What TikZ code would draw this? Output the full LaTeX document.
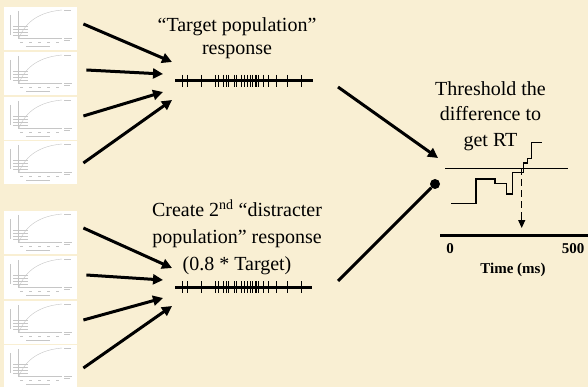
\documentclass[tikz,border=0pt]{standalone}
\usepackage{fontspec}
\setmainfont{Liberation Serif}
\usetikzlibrary{arrows.meta}
\definecolor{parchment}{RGB}{249,239,211}

\begin{document}
\begin{tikzpicture}[x=1pt,y=-1pt]
    \tikzstyle{thumb}=[draw=none,fill=white,minimum width=73pt,minimum height=43pt,anchor=north west,inner sep=0pt]
    \tikzstyle{faint}=[draw=gray!45,line width=0.4pt]
    \tikzstyle{feed}=[line width=3pt,-{Triangle[length=10pt,width=10pt]}]
    \tikzstyle{train}=[line width=3pt]
    \tikzstyle{spike}=[line width=0.9pt]
    \tikzstyle{words}=[align=center,anchor=base,inner sep=0pt]
    \tikzstyle{axisword}=[font=\bfseries\fontsize{15}{18}\selectfont,inner sep=0pt]
    \fill[parchment] (0,0) rectangle (588,387);
    \useasboundingbox (0,0) rectangle (588,387);
    % little cumulative plots on the left
    \foreach \i/\y in {1/7,2/52,3/97,4/141,5/211,6/256,7/301,8/345}{
      \node[thumb] (t\i) at (4,\y) {};
      \begin{scope}[shift={(4,\y)}]
        \draw[faint] (14,4) -- (14,31) -- (58,31);
        \draw[faint] (9,19) -- (24,19) (9,22) -- (24,22) (9,25) -- (24,25) (9,28) -- (24,28);
        \draw[faint] (15,31) .. controls (22,14) and (36,5) .. (58,3);
        \draw[faint] (6,8) -- (6,28);
        \draw[faint] (60,3) -- (67,3);
        \draw[faint] (60,31) -- (68,31) (60,33) -- (66,33);
        \foreach \t in {16,25,34,43,52} \draw[faint] (\t,35) -- (\t+3,35);
        \draw[faint] (22,39) -- (46,39);
      \end{scope}
    }
    \foreach \i/\dx/\dy/\ex/\ey in {1/6/17/172/62,2/9/18/163/74,3/6/19/163/92,4/6/22/172/100,5/6/17/172/268,6/9/19/163/280,7/6/19/163/298,8/6/23/172/306}{
      \coordinate (in\i) at (\ex,\ey);
      \draw[feed] ([shift={(\dx,\dy)}]t\i.north east) -- (in\i);
    }
    % spike trains
    \coordinate (tgtL) at (175,81);
    \coordinate (tgtR) at (313,81);
    \coordinate (disL) at (175,287);
    \coordinate (disR) at (312,287);
    \draw[train] (tgtL) -- (tgtR);
    \draw[train] (disL) -- (disR);
    \foreach \s in {7.3,12.3,26.7,40,43.3,48.3,51,53.3,59,61,66.7,69,72.3,75,77.7,80,81.7,83.3,88.3,93.3,101.7,112.3,126.7}{
      \draw[spike] (175+\s,75) -- (175+\s,87);
      \draw[spike] (175+\s,281) -- (175+\s,293);
    }
    \node[words,font=\fontsize{20}{23.3}\selectfont] (tgtText) at (237,55) {“Target population”\\response};
    \node[words,font=\fontsize{20}{26.7}\selectfont] (disText) at (237,270) {Create 2\textsuperscript{nd} “distracter\\population” response\\(0.8 * Target)};
    \node[words,font=\fontsize{20}{25.8}\selectfont] (rtText) at (490.5,146.7) {Threshold the\\difference to\\get RT};
    % difference and threshold
    \coordinate (tgtOut) at (338,87);
    \coordinate (diffIn) at (438,158);
    \draw[feed] (tgtOut) -- (diffIn);
    \node[circle,fill,inner sep=0pt,minimum size=10pt] (dot) at (435,184) {};
    \coordinate (disOut) at (338,281);
    \draw[line width=3pt] (disOut) -- (dot);
    \coordinate (thrL) at (445,168.5);
    \coordinate (thrR) at (568,168.5);
    \draw[line width=0.8pt] (thrL) -- (thrR);
    \draw[line width=1.5pt] (451,203.3) -- (476,203.3) -- (476,179) -- (495,179) -- (495,183.3) -- (506.7,183.3) -- (506.7,194) -- (512.3,194) -- (512.3,172.3) -- (523.3,172.3) -- (523.3,163) -- (527.3,163) -- (527.3,158.7) -- (531.7,158.7) -- (531.7,142.3) -- (541.7,142.3);
    \coordinate (cross) at (521.7,168.5);
    \coordinate (rt) at (521.7,228);
    \draw[line width=1.2pt,dash pattern=on 7pt off 4pt,-{Triangle[length=8pt,width=7pt]}] (cross) -- (rt);
    \coordinate (axL) at (440,235);
    \coordinate (axR) at (588,235);
    \draw[line width=3pt] (axL) -- (axR);
    \node[axisword] (zero) at (450,249) {0};
    \node[axisword] (five) at (573,249) {500};
    \node[axisword] (timeAx) at (513,270) {Time (ms)};
  \end{tikzpicture}
\end{document}
